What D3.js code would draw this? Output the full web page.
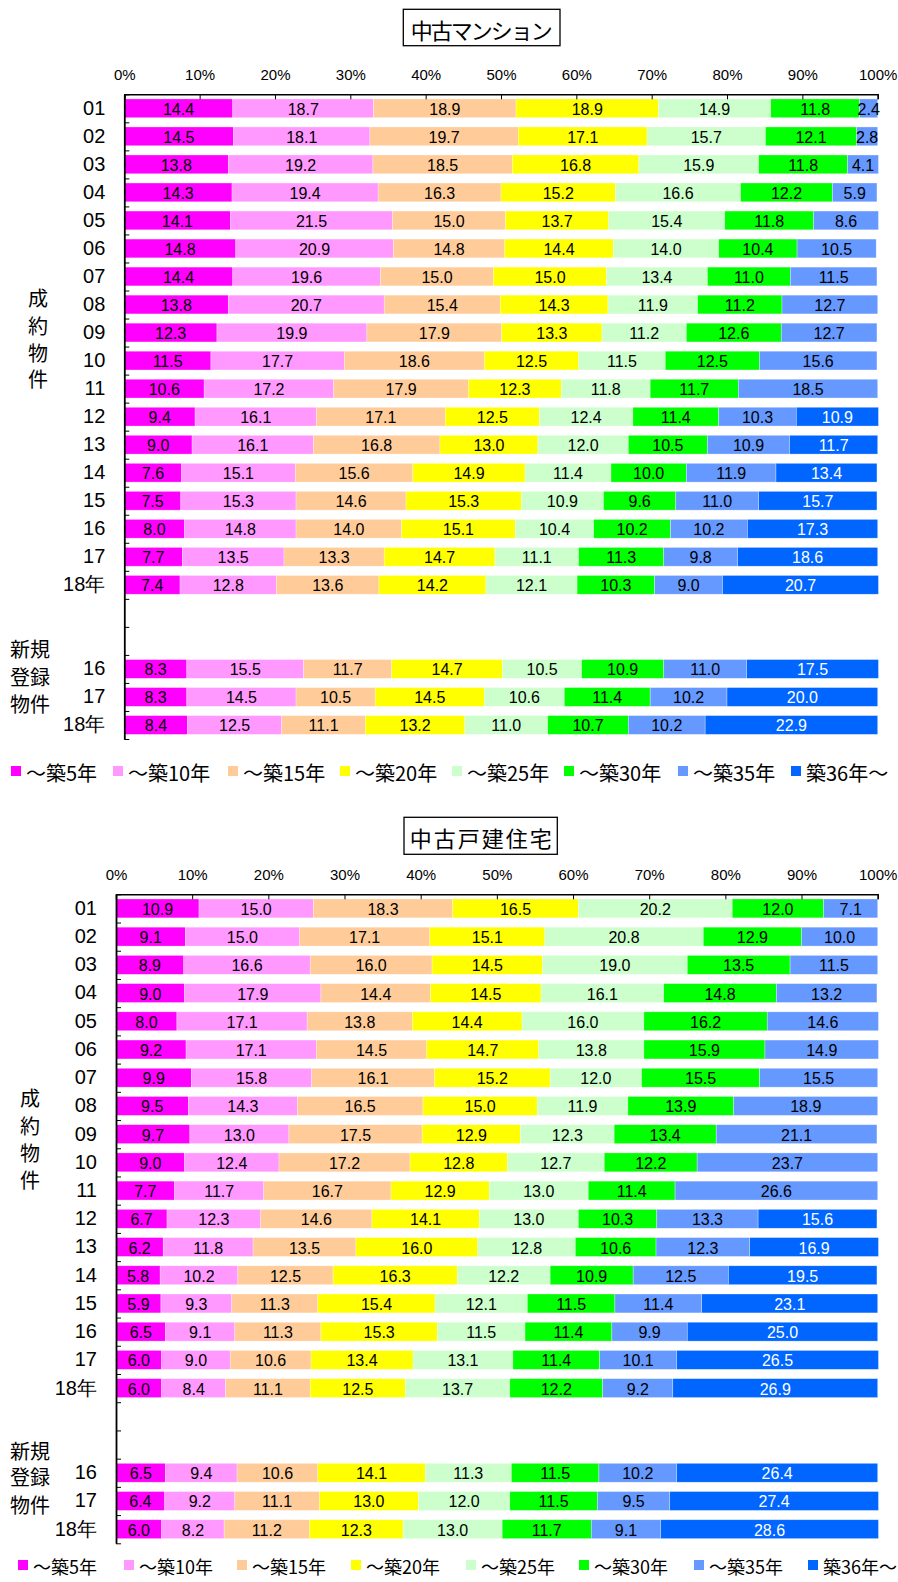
<!DOCTYPE html>
<html>
<head>
<meta charset="utf-8">
<script src="https://cdn.jsdelivr.net/npm/d3@7"></script>
<style>
  body { margin: 0; background: #fff; }
  svg { display: block; }
  .tick text { font-family: "Liberation Sans", Arial, sans-serif; }
</style>
</head>
<body>
<div id="chart"></div>
<script>
// categories (two blank rows separate 成約物件 and 新規登録物件)
const rowLabels = ["01","02","03","04","05","06","07","08","09","10","11","12","13","14","15","16","17","18年","","","16","17","18年"];
const seriesNames = ["～築5年","～築10年","～築15年","～築20年","～築25年","～築30年","～築35年","築36年～"];
const seriesColors = ["#ff00ff","#ff99ff","#ffcc99","#ffff00","#ccffcc","#00ff00","#6699ff","#0066ff"];
const pctTicks = [0,10,20,30,40,50,60,70,80,90,100];
const groupA = ["成","約","物","件"];
const groupB = ["新規","登録","物件"];

// 中古マンション
const mansionValues = [
  [14.4,18.7,18.9,18.9,14.9,11.8,2.4,null],
  [14.5,18.1,19.7,17.1,15.7,12.1,2.8,null],
  [13.8,19.2,18.5,16.8,15.9,11.8,4.1,null],
  [14.3,19.4,16.3,15.2,16.6,12.2,5.9,null],
  [14.1,21.5,15.0,13.7,15.4,11.8,8.6,null],
  [14.8,20.9,14.8,14.4,14.0,10.4,10.5,null],
  [14.4,19.6,15.0,15.0,13.4,11.0,11.5,null],
  [13.8,20.7,15.4,14.3,11.9,11.2,12.7,null],
  [12.3,19.9,17.9,13.3,11.2,12.6,12.7,null],
  [11.5,17.7,18.6,12.5,11.5,12.5,15.6,null],
  [10.6,17.2,17.9,12.3,11.8,11.7,18.5,null],
  [9.4,16.1,17.1,12.5,12.4,11.4,10.3,10.9],
  [9.0,16.1,16.8,13.0,12.0,10.5,10.9,11.7],
  [7.6,15.1,15.6,14.9,11.4,10.0,11.9,13.4],
  [7.5,15.3,14.6,15.3,10.9,9.6,11.0,15.7],
  [8.0,14.8,14.0,15.1,10.4,10.2,10.2,17.3],
  [7.7,13.5,13.3,14.7,11.1,11.3,9.8,18.6],
  [7.4,12.8,13.6,14.2,12.1,10.3,9.0,20.7],
  null,
  null,
  [8.3,15.5,11.7,14.7,10.5,10.9,11.0,17.5],
  [8.3,14.5,10.5,14.5,10.6,11.4,10.2,20.0],
  [8.4,12.5,11.1,13.2,11.0,10.7,10.2,22.9]
];

// 中古戸建住宅
const houseValues = [
  [10.9,15.0,18.3,16.5,20.2,12.0,7.1,null],
  [9.1,15.0,17.1,15.1,20.8,12.9,10.0,null],
  [8.9,16.6,16.0,14.5,19.0,13.5,11.5,null],
  [9.0,17.9,14.4,14.5,16.1,14.8,13.2,null],
  [8.0,17.1,13.8,14.4,16.0,16.2,14.6,null],
  [9.2,17.1,14.5,14.7,13.8,15.9,14.9,null],
  [9.9,15.8,16.1,15.2,12.0,15.5,15.5,null],
  [9.5,14.3,16.5,15.0,11.9,13.9,18.9,null],
  [9.7,13.0,17.5,12.9,12.3,13.4,21.1,null],
  [9.0,12.4,17.2,12.8,12.7,12.2,23.7,null],
  [7.7,11.7,16.7,12.9,13.0,11.4,26.6,null],
  [6.7,12.3,14.6,14.1,13.0,10.3,13.3,15.6],
  [6.2,11.8,13.5,16.0,12.8,10.6,12.3,16.9],
  [5.8,10.2,12.5,16.3,12.2,10.9,12.5,19.5],
  [5.9,9.3,11.3,15.4,12.1,11.5,11.4,23.1],
  [6.5,9.1,11.3,15.3,11.5,11.4,9.9,25.0],
  [6.0,9.0,10.6,13.4,13.1,11.4,10.1,26.5],
  [6.0,8.4,11.1,12.5,13.7,12.2,9.2,26.9],
  null,
  null,
  [6.5,9.4,10.6,14.1,11.3,11.5,10.2,26.4],
  [6.4,9.2,11.1,13.0,12.0,11.5,9.5,27.4],
  [6.0,8.2,11.2,12.3,13.0,11.7,9.1,28.6]
];

const W = 898, H = 1582;
const jp = "'Noto Sans CJK JP', sans-serif";
const num = "'Liberation Sans', Arial, 'Noto Sans CJK JP', sans-serif";

const svg = d3.select("#chart").append("svg")
  .attr("width", W).attr("height", H);

// layout of the two panels
const panels = [
  { title: "中古マンション", values: mansionValues,
    top: 94.3, bottom: 739, left: 124.3, right: 877.7,
    box: [403.3, 9.3, 560, 45.7],
    groupAX: 38, groupAY: [297, 325, 352, 378.5],
    groupBX: 30, groupBY: [648, 676.5, 703.5],
    legendY: 771, legendFont: 20, legendX: [11,113,228,340,452,564,678,791] },
  { title: "中古戸建住宅", values: houseValues,
    top: 894.3, bottom: 1543.3, left: 116, right: 877.7,
    box: [404, 817.3, 557.3, 854.3],
    groupAX: 30, groupAY: [1097, 1125, 1152, 1179],
    groupBX: 30, groupBY: [1450, 1476.7, 1504],
    legendY: 1565, legendFont: 18, legendX: [18,124,237,351,466,579,694,808] }
];

panels.forEach(function(p){
  const g = svg.append("g");

  // title box
  g.append("rect")
   .attr("x", p.box[0]).attr("y", p.box[1])
   .attr("width", p.box[2] - p.box[0]).attr("height", p.box[3] - p.box[1])
   .attr("fill", "#fff").attr("stroke", "#000").attr("stroke-width", 1.3);
  g.append("text")
   .attr("x", (p.box[0] + p.box[2]) / 2).attr("y", (p.box[1] + p.box[3]) / 2 + 1)
   .attr("text-anchor", "middle").attr("dominant-baseline", "central")
   .attr("font-family", jp).attr("font-size", 22)
   .attr("textLength", 142).attr("lengthAdjust", "spacing")
   .text(p.title);

  const x = d3.scaleLinear().domain([0, 100]).range([p.left, p.right]);
  const y = d3.scaleBand().domain(d3.range(rowLabels.length))
              .range([p.top, p.bottom]).paddingInner(0.33).paddingOuter(0.165);
  const yEdge = d3.scaleLinear().domain([0, rowLabels.length]).range([p.top, p.bottom]);

  // stacked segments
  const rows = p.values.map((v, i) => ({ i: i, v: v })).filter(d => d.v);
  const stack = d3.stack().keys(d3.range(8)).value((d, k) => d.v[k] || 0);
  const layers = stack(rows);

  const layer = g.selectAll(".layer").data(layers).enter().append("g")
    .attr("fill", (d, k) => seriesColors[k]);

  layer.selectAll("rect")
    .data(d => d.filter(s => s.data.v[d.key] != null))
    .enter().append("rect")
    .attr("x", s => x(s[0]))
    .attr("width", s => x(s[1]) - x(s[0]))
    .attr("y", s => y(s.data.i))
    .attr("height", y.bandwidth())
    .attr("stroke", "#fff").attr("stroke-opacity", 0.5).attr("stroke-width", 0.6);

  layers.forEach(function(L, k){
    g.selectAll(null)
     .data(L.filter(s => s.data.v[k] != null))
     .enter().append("text")
     .attr("x", s => (x(s[0]) + x(s[1])) / 2)
     .attr("y", s => y(s.data.i) + y.bandwidth() / 2 + 1)
     .attr("text-anchor", "middle").attr("dominant-baseline", "central")
     .attr("font-family", num).attr("font-size", 16)
     .attr("fill", k === 7 ? "#fff" : "#000")
     .text(s => d3.format(".1f")(s.data.v[k]));
  });

  // top percent axis
  g.append("g")
    .attr("transform", `translate(0,${p.top})`)
    .call(d3.axisTop(x).tickValues(pctTicks).tickFormat(d => d + "%")
      .tickSizeInner(-5).tickSizeOuter(-5).tickPadding(14))
    .call(a => a.select(".domain").attr("stroke-width", 1.5))
    .call(a => a.selectAll("text").attr("font-size", 15).attr("fill", "#000"));

  // left axis: boundary ticks
  g.append("g")
    .attr("transform", `translate(${p.left},0)`)
    .call(d3.axisLeft(yEdge).tickValues(d3.range(rowLabels.length + 1))
      .tickFormat("").tickSizeInner(-5).tickSizeOuter(0))
    .call(a => a.select(".domain").attr("stroke-width", 1.8));

  // row labels
  g.append("g")
    .attr("transform", `translate(${p.left},0)`)
    .call(d3.axisLeft(y).tickFormat(i => rowLabels[i]).tickSize(0).tickPadding(19))
    .call(a => a.select(".domain").remove())
    .call(a => a.selectAll("text").attr("font-family", num).attr("font-size", 20).attr("fill", "#000"));

  // group labels
  g.selectAll(null).data(groupA).enter().append("text")
    .attr("x", p.groupAX).attr("y", (d, i) => p.groupAY[i])
    .attr("text-anchor", "middle").attr("dominant-baseline", "central")
    .attr("font-family", jp).attr("font-size", 20)
    .text(d => d);
  g.selectAll(null).data(groupB).enter().append("text")
    .attr("x", p.groupBX).attr("y", (d, i) => p.groupBY[i])
    .attr("text-anchor", "middle").attr("dominant-baseline", "central")
    .attr("font-family", jp).attr("font-size", 20)
    .text(d => d);

  // legend
  const lg = g.selectAll(".lg").data(seriesNames).enter().append("g")
    .attr("transform", (d, i) => `translate(${p.legendX[i]},${p.legendY})`);
  lg.append("rect").attr("x", 0).attr("y", -5).attr("width", 10).attr("height", 10)
    .attr("fill", (d, i) => seriesColors[i]);
  lg.append("text").attr("x", 15).attr("y", 1)
    .attr("dominant-baseline", "central")
    .attr("font-family", jp).attr("font-size", p.legendFont)
    .text(d => d);
});
</script>
</body>
</html>
